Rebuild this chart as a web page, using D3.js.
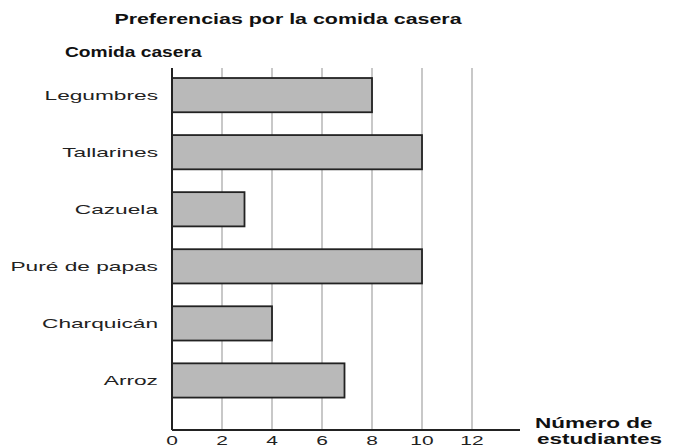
<!DOCTYPE html>
<html>
<head>
    <title>Preferencias por la comida casera</title>
    <script src="https://d3js.org/d3.v7.min.js"></script>
    <style>
        body { margin: 0; background: #fff; }
        svg { display: block; font-family: "Liberation Sans", Arial, sans-serif; }
    </style>
</head>
<body>
    <svg id="chart"></svg>
    <script>
        // data
        const categories = ["Legumbres", "Tallarines", "Cazuela", "Puré de papas", "Charquicán", "Arroz"];
        const values = [8, 10, 2.9, 10, 4, 6.9];
        const tickValues = [0, 2, 4, 6, 8, 10, 12];

        const width = 675, height = 447;
        const svg = d3.select("#chart").attr("width", width).attr("height", height);

        const x = d3.scaleLinear().domain([0, 12]).range([172, 472]);
        const y = d3.scaleBand().domain(categories).range([66.6, 409]).paddingInner(0.4).paddingOuter(0.2);
        const yTop = 68, yBottom = 430;

        // stretch text horizontally like the scanned original
        function stretch(sel, k) {
            sel.each(function () {
                const w = this.getComputedTextLength();
                d3.select(this).attr("textLength", w * k).attr("lengthAdjust", "spacingAndGlyphs");
            });
        }

        // gridlines
        svg.append("g")
            .selectAll("line")
            .data(tickValues.slice(1))
            .join("line")
            .attr("x1", d => x(d)).attr("x2", d => x(d))
            .attr("y1", yTop).attr("y2", yBottom)
            .attr("stroke", "#c8c8c8")
            .attr("stroke-width", 2);

        // bars
        svg.append("g")
            .selectAll("rect")
            .data(values)
            .join("rect")
            .attr("x", x(0))
            .attr("y", (d, i) => y(categories[i]))
            .attr("width", d => x(d) - x(0))
            .attr("height", y.bandwidth())
            .attr("fill", "#b9b9b9")
            .attr("stroke", "#222")
            .attr("stroke-width", 1.8);

        // axes
        svg.append("line")
            .attr("x1", x(0)).attr("x2", x(0))
            .attr("y1", yTop).attr("y2", yBottom)
            .attr("stroke", "#222").attr("stroke-width", 2);
        svg.append("line")
            .attr("x1", x(0)).attr("x2", 520)
            .attr("y1", yBottom).attr("y2", yBottom)
            .attr("stroke", "#222").attr("stroke-width", 2);

        // category labels
        svg.append("g")
            .selectAll("text")
            .data(categories)
            .join("text")
            .attr("x", 158)
            .attr("y", d => y(d) + y.bandwidth() / 2 + 5)
            .attr("text-anchor", "end")
            .attr("font-size", 13.5)
            .attr("fill", "#222")
            .text(d => d)
            .call(stretch, 1.68);

        // tick labels
        svg.append("g")
            .selectAll("text")
            .data(tickValues)
            .join("text")
            .attr("x", d => x(d))
            .attr("y", 445)
            .attr("text-anchor", "middle")
            .attr("font-size", 13.5)
            .attr("fill", "#222")
            .text(d => d)
            .call(stretch, 1.55);

        // titles
        svg.append("text")
            .attr("x", 288).attr("y", 24)
            .attr("text-anchor", "middle")
            .attr("font-size", 15.5).attr("font-weight", "bold")
            .attr("fill", "#111")
            .text("Preferencias por la comida casera")
            .call(stretch, 1.38);

        svg.append("text")
            .attr("x", 65).attr("y", 57)
            .attr("font-size", 15).attr("font-weight", "bold")
            .attr("fill", "#111")
            .text("Comida casera")
            .call(stretch, 1.28);

        svg.append("text")
            .attr("x", 535).attr("y", 428)
            .attr("font-size", 15).attr("font-weight", "bold")
            .attr("fill", "#111")
            .text("Número de")
            .call(stretch, 1.5);
        svg.append("text")
            .attr("x", 537).attr("y", 444)
            .attr("font-size", 15).attr("font-weight", "bold")
            .attr("fill", "#111")
            .text("estudiantes")
            .call(stretch, 1.5);
    </script>
</body>
</html>
